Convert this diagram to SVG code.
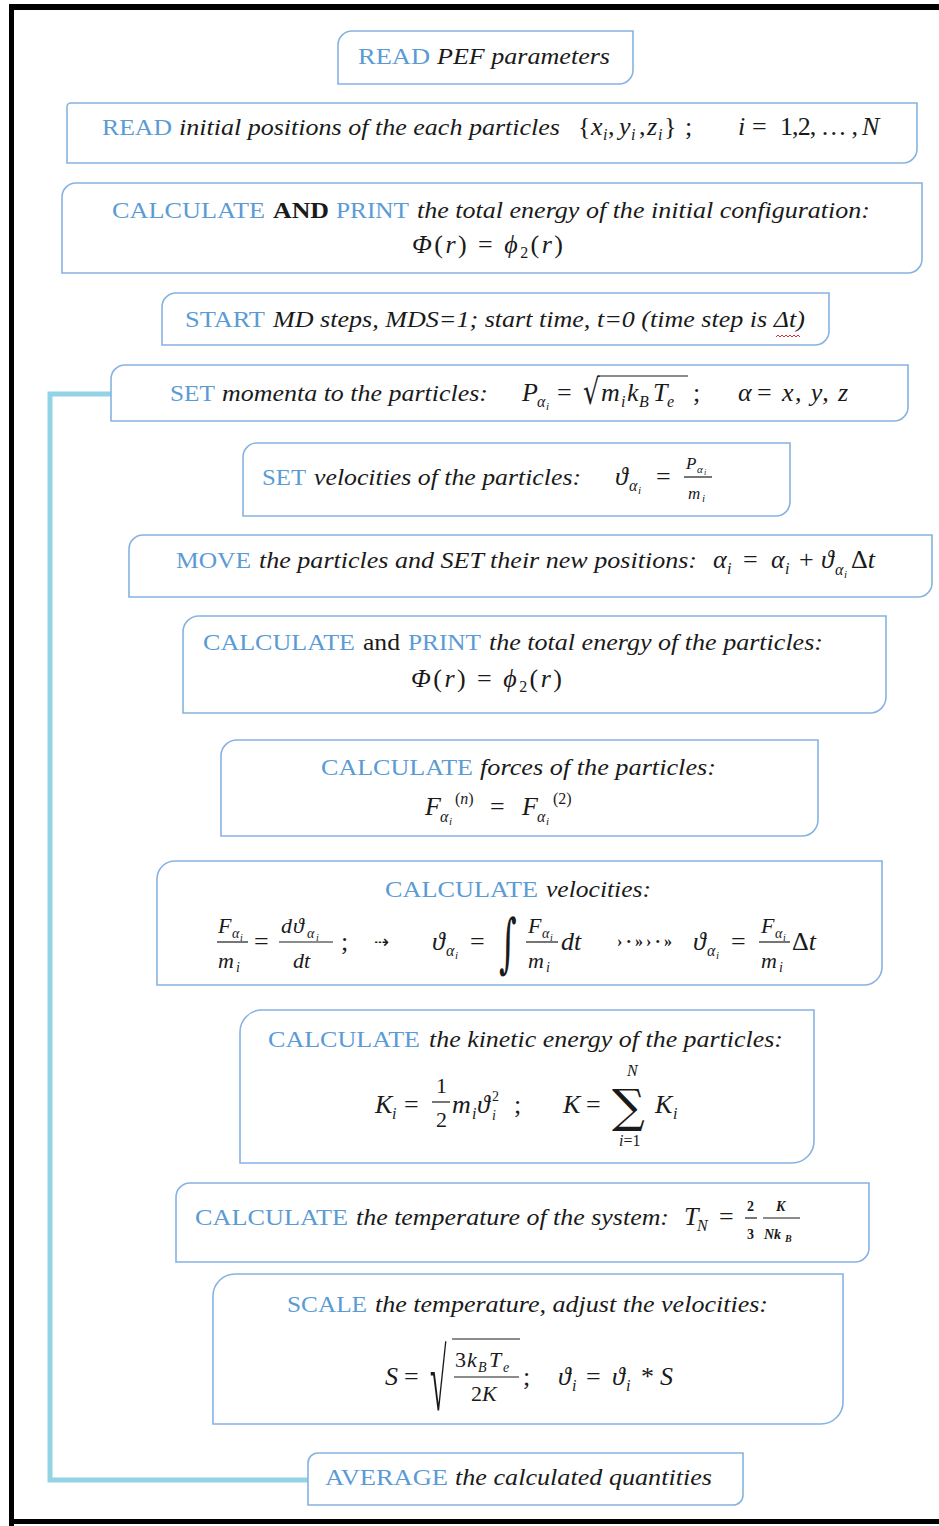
<svg xmlns="http://www.w3.org/2000/svg" width="939" height="1526" viewBox="0 0 939 1526">
<style>
text{font-family:"Liberation Serif","DejaVu Serif",serif;fill:#1a1a1a}
.kw{fill:#5b9bd5;font-size:24px}
.it{font-style:italic;font-size:24px}
.b{font-weight:bold;font-size:24px}
.r{font-size:24px}
.m{font-size:26px}
.i{font-style:italic}
.s{font-size:16px}
.ss{font-size:11px}
.f{font-size:22px}
.fs{font-size:14px}
.fss{font-size:10px}
.op{font-family:"DejaVu Serif",serif}
.box{fill:#fff;stroke:#86b3e2;stroke-width:1.6}
.bar{stroke:#1a1a1a;stroke-width:1.2}
.conn{fill:none;stroke:#92d3e6;stroke-width:5}
.frame{fill:#000}
</style>
<g id="frame">
<rect class="frame" x="9" y="4" width="930" height="6"/>
<rect class="frame" x="9" y="4" width="5" height="1522"/>
<rect class="frame" x="9" y="1519" width="930" height="5"/>
</g>
<g id="connectors">
<path class="conn" d="M111,394 H50 V1480 H308"/>
</g>
<g id="n1">
<path class="box" d="M352,31 H633 V70 A14 14 0 0 1 619,84 H338 V45 A14 14 0 0 1 352,31 Z"/>
<text class="kw" x="358" y="64" textLength="72" lengthAdjust="spacingAndGlyphs">READ</text>
<text class="it" x="437" y="64" textLength="173" lengthAdjust="spacingAndGlyphs">PEF parameters</text>
</g>
<g id="n2">
<path class="box" d="M71,103 H917 V149 A14 14 0 0 1 903,163 H67 V107 A4 4 0 0 1 71,103 Z"/>
<text class="kw" x="102" y="135" textLength="70" lengthAdjust="spacingAndGlyphs">READ</text>
<text class="it" x="179" y="135" textLength="381" lengthAdjust="spacingAndGlyphs">initial positions of the each particles</text>
<text class="m" x="578" y="135">{</text>
<text class="m i" x="591" y="135">x</text>
<text class="s i" x="603" y="140">i</text>
<text class="m" x="608" y="135">,</text>
<text class="m i" x="619" y="135">y</text>
<text class="s i" x="631" y="140">i</text>
<text class="m" x="639" y="135">,</text>
<text class="m i" x="647" y="135">z</text>
<text class="s i" x="658" y="140">i</text>
<text class="m" x="664" y="135">}</text>
<text class="m" x="685" y="135">;</text>
<text class="m i" x="738" y="135">i</text>
<text class="m" x="752" y="135">=</text>
<text class="m" x="780" y="135" textLength="78" lengthAdjust="spacing">1,2, … ,</text>
<text class="m i" x="862" y="135">N</text>
</g>
<g id="n3">
<path class="box" d="M76,183 H922 V259 A14 14 0 0 1 908,273 H62 V197 A14 14 0 0 1 76,183 Z"/>
<text class="kw" x="112" y="218" textLength="153" lengthAdjust="spacingAndGlyphs">CALCULATE</text>
<text class="b" x="273" y="218" textLength="56" lengthAdjust="spacingAndGlyphs">AND</text>
<text class="kw" x="336" y="218" textLength="73" lengthAdjust="spacingAndGlyphs">PRINT</text>
<text class="it" x="417" y="218" textLength="453" lengthAdjust="spacingAndGlyphs">the total energy of the initial configuration:</text>
<text class="m" x="412" y="253" font-size="28" textLength="151" lengthAdjust="spacing"><tspan class="i">Φ</tspan>(<tspan class="i">r</tspan>) = <tspan class="i">ϕ</tspan><tspan class="s" dy="5">2</tspan><tspan dy="-5">(</tspan><tspan class="i">r</tspan>)</text>
</g>
<g id="n4">
<path class="box" d="M176,293 H829 V331 A14 14 0 0 1 815,345 H162 V307 A14 14 0 0 1 176,293 Z"/>
<text class="kw" x="185" y="327" textLength="80" lengthAdjust="spacingAndGlyphs">START</text>
<text class="it" x="273" y="327" textLength="532" lengthAdjust="spacingAndGlyphs">MD steps, MDS=1; start time, t=0 (time step is Δt)</text>
<path d="M776,337 l2,-2 l2,2 l2,-2 l2,2 l2,-2 l2,2 l2,-2 l2,2 l2,-2 l2,2 l2,-2 l2,2" fill="none" stroke="#e03030" stroke-width="1"/>
</g>
<g id="n5">
<path class="box" d="M125,365 H908 V407 A14 14 0 0 1 894,421 H111 V379 A14 14 0 0 1 125,365 Z"/>
<text class="kw" x="170" y="401" textLength="45" lengthAdjust="spacingAndGlyphs">SET</text>
<text class="it" x="222" y="401" textLength="266" lengthAdjust="spacingAndGlyphs">momenta to the particles:</text>
<text class="m i" x="522" y="401">P</text>
<text class="s i" x="537" y="407">α</text>
<text class="ss i" x="546" y="410">i</text>
<text class="m" x="557" y="401">=</text>
<text class="op" transform="translate(583,404) scale(1,1.35)" font-size="26">√</text>
<line class="bar" x1="598" y1="376" x2="688" y2="376"/>
<text class="m i" x="601" y="401">m</text>
<text class="s i" x="621" y="407">i</text>
<text class="m i" x="627" y="401">k</text>
<text class="s i" x="639" y="407">B</text>
<text class="m i" x="653" y="401">T</text>
<text class="s i" x="667" y="407">e</text>
<text class="m" x="693" y="401">;</text>
<text class="m i" x="738" y="401">α</text>
<text class="m" x="757" y="401">=</text>
<text class="m i" x="782" y="401" textLength="66" lengthAdjust="spacing">x, y, z</text>
</g>
<g id="n6">
<path class="box" d="M257,443 H790 V502 A14 14 0 0 1 776,516 H243 V457 A14 14 0 0 1 257,443 Z"/>
<text class="kw" x="262" y="485" textLength="44" lengthAdjust="spacingAndGlyphs">SET</text>
<text class="it" x="314" y="485" textLength="267" lengthAdjust="spacingAndGlyphs">velocities of the particles:</text>
<text class="m i" x="615" y="485">ϑ</text>
<text class="s i" x="629" y="491">α</text>
<text class="ss i" x="638" y="494">i</text>
<text class="m" x="656" y="485">=</text>
<text class="i" x="686" y="469" font-size="17">P</text>
<text class="i" x="697" y="473" font-size="11">α</text>
<text class="i" x="704" y="475" font-size="8">i</text>
<line class="bar" x1="684" y1="477" x2="712" y2="477"/>
<text class="i" x="688" y="499" font-size="17">m</text>
<text class="i" x="702" y="502" font-size="11">i</text>
</g>
<g id="n7">
<path class="box" d="M143,535 H932 V583 A14 14 0 0 1 918,597 H129 V549 A14 14 0 0 1 143,535 Z"/>
<text class="kw" x="176" y="568" textLength="75" lengthAdjust="spacingAndGlyphs">MOVE</text>
<text class="it" x="259" y="568" textLength="438" lengthAdjust="spacingAndGlyphs">the particles and SET their new positions:</text>
<text class="m i" x="713" y="568">α</text>
<text class="s i" x="727" y="574">i</text>
<text class="m" x="743" y="568">=</text>
<text class="m i" x="771" y="568">α</text>
<text class="s i" x="785" y="574">i</text>
<text class="m" x="799" y="568">+</text>
<text class="m i" x="821" y="568">ϑ</text>
<text class="s i" x="835" y="575">α</text>
<text class="ss i" x="844" y="578">i</text>
<text class="m" x="851" y="568">Δ<tspan class="i">t</tspan></text>
</g>
<g id="n8">
<path class="box" d="M199,616 H886 V697 A16 16 0 0 1 870,713 H183 V632 A16 16 0 0 1 199,616 Z"/>
<text class="kw" x="203" y="650" textLength="152" lengthAdjust="spacingAndGlyphs">CALCULATE</text>
<text class="r" x="363" y="650" textLength="37" lengthAdjust="spacingAndGlyphs">and</text>
<text class="kw" x="408" y="650" textLength="73" lengthAdjust="spacingAndGlyphs">PRINT</text>
<text class="it" x="489" y="650" textLength="334" lengthAdjust="spacingAndGlyphs">the total energy of the particles:</text>
<text class="m" x="411" y="687" font-size="28" textLength="151" lengthAdjust="spacing"><tspan class="i">Φ</tspan>(<tspan class="i">r</tspan>) = <tspan class="i">ϕ</tspan><tspan class="s" dy="5">2</tspan><tspan dy="-5">(</tspan><tspan class="i">r</tspan>)</text>
</g>
<g id="n9">
<path class="box" d="M237,740 H818 V820 A16 16 0 0 1 802,836 H221 V756 A16 16 0 0 1 237,740 Z"/>
<text class="kw" x="321" y="775" textLength="152" lengthAdjust="spacingAndGlyphs">CALCULATE</text>
<text class="it" x="480" y="775" textLength="236" lengthAdjust="spacingAndGlyphs">forces of the particles:</text>
<text class="m i" x="425" y="815">F</text>
<text class="s i" x="440" y="822">α</text>
<text class="ss i" x="449" y="825">i</text>
<text class="s" x="455" y="804">(<tspan class="i">n</tspan>)</text>
<text class="m" x="490" y="815">=</text>
<text class="m i" x="522" y="815">F</text>
<text class="s i" x="537" y="822">α</text>
<text class="ss i" x="546" y="825">i</text>
<text class="s" x="553" y="804">(2)</text>
</g>
<g id="n10">
<path class="box" d="M175,861 H882 V967 A18 18 0 0 1 864,985 H157 V879 A18 18 0 0 1 175,861 Z"/>
<text class="kw" x="385" y="897" textLength="153" lengthAdjust="spacingAndGlyphs">CALCULATE</text>
<text class="it" x="546" y="897" textLength="105" lengthAdjust="spacingAndGlyphs">velocities:</text>
<text class="f i" x="218" y="933">F</text>
<text class="fs i" x="232" y="938">α</text>
<text class="fss i" x="240" y="941">i</text>
<line class="bar" x1="217" y1="942" x2="248" y2="942"/>
<text class="f i" x="218" y="968">m</text>
<text class="fs i" x="236" y="972">i</text>
<text class="m" x="254" y="950">=</text>
<text class="f i" x="281" y="933">d</text>
<text class="f i" x="293" y="933">ϑ</text>
<text class="fs i" x="307" y="938">α</text>
<text class="fss i" x="316" y="941">i</text>
<line class="bar" x1="279" y1="942" x2="333" y2="942"/>
<text class="f i" x="293" y="968">dt</text>
<text class="m" x="341" y="950">;</text>
<text x="374" y="948" font-size="18" style="font-family:'DejaVu Sans',sans-serif">⇢</text>
<text class="m i" x="432" y="950">ϑ</text>
<text class="s i" x="446" y="956">α</text>
<text class="ss i" x="455" y="959">i</text>
<text class="m" x="470" y="950">=</text>
<text class="op" transform="translate(499,965) scale(1,1.9)" font-size="34">∫</text>
<text class="f i" x="528" y="933">F</text>
<text class="fs i" x="542" y="938">α</text>
<text class="fss i" x="550" y="941">i</text>
<line class="bar" x1="526" y1="942" x2="558" y2="942"/>
<text class="f i" x="528" y="968">m</text>
<text class="fs i" x="546" y="972">i</text>
<text class="m i" x="561" y="950">dt</text>
<text x="617" y="947" font-size="16" font-weight="bold" textLength="55" lengthAdjust="spacing">›⋅»›⋅»</text>
<text class="m i" x="693" y="950">ϑ</text>
<text class="s i" x="707" y="956">α</text>
<text class="ss i" x="716" y="959">i</text>
<text class="m" x="731" y="950">=</text>
<text class="f i" x="761" y="933">F</text>
<text class="fs i" x="775" y="938">α</text>
<text class="fss i" x="783" y="941">i</text>
<line class="bar" x1="759" y1="942" x2="790" y2="942"/>
<text class="f i" x="761" y="968">m</text>
<text class="fs i" x="779" y="972">i</text>
<text class="m" x="792" y="950">Δ<tspan class="i">t</tspan></text>
</g>
<g id="n11">
<path class="box" d="M262,1010 H814 V1141 A22 22 0 0 1 792,1163 H240 V1032 A22 22 0 0 1 262,1010 Z"/>
<text class="kw" x="268" y="1047" textLength="152" lengthAdjust="spacingAndGlyphs">CALCULATE</text>
<text class="it" x="429" y="1047" textLength="354" lengthAdjust="spacingAndGlyphs">the kinetic energy of the particles:</text>
<text class="m i" x="375" y="1113">K</text>
<text class="s i" x="392" y="1119">i</text>
<text class="m" x="404" y="1113">=</text>
<text class="f" x="436" y="1093">1</text>
<line class="bar" x1="432" y1="1102" x2="450" y2="1102"/>
<text class="f" x="436" y="1127">2</text>
<text class="m i" x="452" y="1113">m</text>
<text class="s i" x="472" y="1119">i</text>
<text class="m i" x="477" y="1113">ϑ</text>
<text class="fs" x="492" y="1101">2</text>
<text class="fs i" x="492" y="1120">i</text>
<text class="m" x="514" y="1113">;</text>
<text class="m i" x="563" y="1113">K</text>
<text class="m" x="586" y="1113">=</text>
<text class="op" x="612" y="1122" font-size="46">∑</text>
<text class="s i" x="627" y="1076">N</text>
<text class="s" x="619" y="1146"><tspan class="i">i</tspan>=1</text>
<text class="m i" x="655" y="1113">K</text>
<text class="s i" x="673" y="1119">i</text>
</g>
<g id="n12">
<path class="box" d="M190,1183 H869 V1248 A14 14 0 0 1 855,1262 H176 V1197 A14 14 0 0 1 190,1183 Z"/>
<text class="kw" x="195" y="1225" textLength="153" lengthAdjust="spacingAndGlyphs">CALCULATE</text>
<text class="it" x="356" y="1225" textLength="313" lengthAdjust="spacingAndGlyphs">the temperature of the system:</text>
<text class="m i" x="684" y="1225">T</text>
<text class="s i" x="697" y="1231">N</text>
<text class="m" x="719" y="1225">=</text>
<text x="747" y="1211" font-size="14" font-weight="bold">2</text>
<line class="bar" x1="745" y1="1218" x2="757" y2="1218"/>
<text x="747" y="1239" font-size="14" font-weight="bold">3</text>
<text class="i" x="776" y="1211" font-size="14" font-weight="bold">K</text>
<line class="bar" x1="763" y1="1218" x2="800" y2="1218"/>
<text class="i" x="764" y="1239" font-size="14" font-weight="bold">Nk</text>
<text class="i" x="785" y="1242" font-size="10" font-weight="bold">B</text>
</g>
<g id="n13">
<path class="box" d="M235,1274 H843 V1402 A22 22 0 0 1 821,1424 H213 V1296 A22 22 0 0 1 235,1274 Z"/>
<text class="kw" x="287" y="1312" textLength="80" lengthAdjust="spacingAndGlyphs">SCALE</text>
<text class="it" x="375" y="1312" textLength="393" lengthAdjust="spacingAndGlyphs">the temperature, adjust the velocities:</text>
<text class="m i" x="385" y="1385">S</text>
<text class="m" x="404" y="1385">=</text>
<text transform="translate(430,1410) scale(1,2.9)" font-size="30">√</text>
<line class="bar" x1="452" y1="1339" x2="520" y2="1339"/>
<text class="f" x="455" y="1367">3</text>
<text class="f i" x="467" y="1367">k</text>
<text class="fs i" x="478" y="1372">B</text>
<text class="f i" x="489" y="1367">T</text>
<text class="fs i" x="503" y="1372">e</text>
<line class="bar" x1="454" y1="1377" x2="519" y2="1377"/>
<text class="f" x="471" y="1401">2<tspan class="i">K</tspan></text>
<text class="m" x="523" y="1385">;</text>
<text class="m i" x="558" y="1385">ϑ</text>
<text class="s i" x="572" y="1391">i</text>
<text class="m" x="586" y="1385">=</text>
<text class="m i" x="612" y="1385">ϑ</text>
<text class="s i" x="626" y="1391">i</text>
<text class="m" x="641" y="1385">*</text>
<text class="m i" x="660" y="1385">S</text>
</g>
<g id="n14">
<path class="box" d="M318,1453 H743 V1495 A10 10 0 0 1 733,1505 H308 V1463 A10 10 0 0 1 318,1453 Z"/>
<text class="kw" x="325" y="1485" textLength="123" lengthAdjust="spacingAndGlyphs">AVERAGE</text>
<text class="it" x="455" y="1485" textLength="257" lengthAdjust="spacingAndGlyphs">the calculated quantities</text>
</g>
</svg>
